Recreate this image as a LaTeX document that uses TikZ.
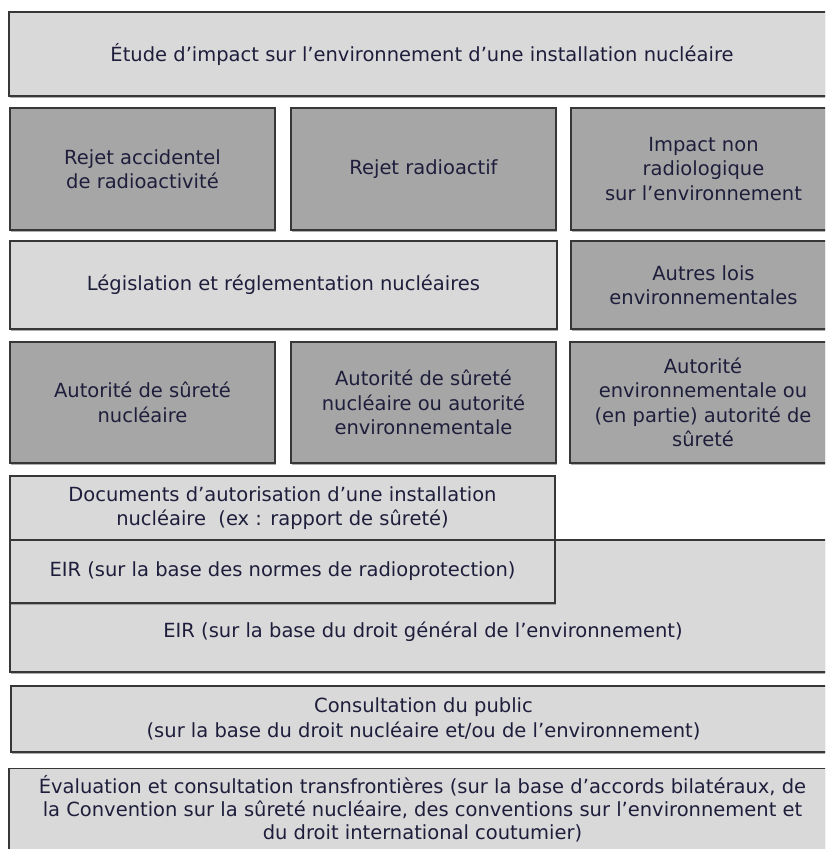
\documentclass[tikz,border=0pt]{standalone}
\usepackage{fontspec}
\setmainfont{DejaVu Sans}
\usepackage{tikz}
\usetikzlibrary{positioning,shadows}
\definecolor{txt}{RGB}{30,30,60}
\definecolor{pale}{RGB}{217,217,217}
\definecolor{deep}{RGB}{166,166,166}
\definecolor{edge}{RGB}{55,55,55}

\begin{document}
\begin{tikzpicture}[x=1pt,y=-1pt,
    box/.style={draw=edge,line width=1.3pt,rectangle,inner sep=0pt,align=center,text=txt,
                font=\fontsize{19.5}{24.5}\selectfont,
                drop shadow={shadow xshift=1pt,shadow yshift=-1.6pt,fill=black!45,opacity=.7}},
    lite/.style={box,fill=pale},
    dark/.style={box,fill=deep}]
              \clip (0,0) rectangle (825,849);
              \node[lite,minimum width=826,minimum height=84] (etude) at (422,54) {Étude d’impact sur l’environnement d’une installation nucléaire};

              \node[dark,minimum width=265,minimum height=122] (rej1) at (142.5,169) {Rejet accidentel\\de radioactivité};
              \node[dark,minimum width=265,minimum height=122] (rej2) at (423.5,169) {Rejet radioactif};
              \node[dark,minimum width=265,minimum height=122] (impact) at (703.5,169) {Impact non\\radiologique\\sur l’environnement};

              \node[lite,minimum width=547,minimum height=88] (legis) at (283.5,285) {Législation et réglementation nucléaires};
              \node[dark,minimum width=265,minimum height=88] (autres) at (703.5,285) {Autres lois\\environnementales};

              \node[dark,minimum width=265,minimum height=121] (aut1) at (142.5,402.5) {Autorité de sûreté\\nucléaire};
              \node[dark,minimum width=265,minimum height=121] (aut2) at (423.5,402.5) {Autorité de sûreté\\nucléaire ou autorité\\environnementale};
              \node[dark,minimum width=266,minimum height=121] (aut3) at (703,402.5) {Autorité\\environnementale ou\\(en partie) autorité de\\sûreté};

              \node[lite,align=left,text height=67pt,text depth=5pt,minimum width=826,minimum height=132] (eirgen) at (423,606) {EIR (sur la base du droit général de l’environnement)};
              \node[lite,minimum width=545,minimum height=64] (docs) at (282.5,508) {Documents d’autorisation d’une installation\\nucléaire\ \ (ex : rapport de sûreté)};
              \node[lite,minimum width=545,minimum height=63] (eirrad) at (282.5,571.5) {EIR (sur la base des normes de radioprotection)};

              \node[lite,minimum width=825,minimum height=66] (consult) at (423.5,719) {Consultation du public\\(sur la base du droit nucléaire et/ou de l’environnement)};
              \node[lite,anchor=north,inner ysep=7pt,minimum width=827,font=\fontsize{19.5}{23}\selectfont] (eval) at (422.5,768) {Évaluation et consultation transfrontières (sur la base d’accords bilatéraux, de\\la Convention sur la sûreté nucléaire, des conventions sur l’environnement et\\du droit international coutumier)};
            \end{tikzpicture}
\end{document}
